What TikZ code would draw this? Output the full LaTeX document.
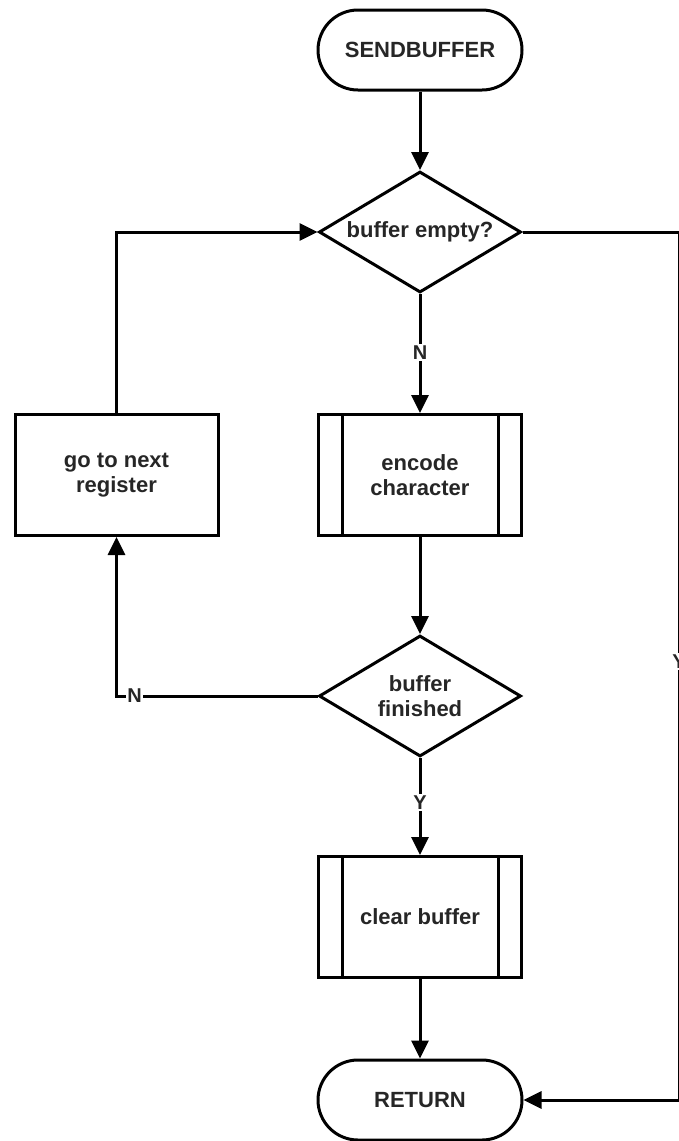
\documentclass[tikz,border=0pt]{standalone}
\usepackage{fontspec}
\setmainfont{Liberation Sans}
\usetikzlibrary{arrows.meta,shapes.geometric}

\tikzset{
  base/.style={draw=black, line width=3pt, fill=white, inner sep=0pt,
    align=center, font=\fontsize{22}{25}\selectfont\bfseries, text=black!85},
  terminal/.style={base, rectangle, rounded corners=40pt,
    minimum width=204pt, minimum height=80pt},
  decision/.style={base, diamond, shape aspect=1.67,
    minimum width=202pt, minimum height=121pt},
  process/.style={base, rectangle, minimum width=203pt, minimum height=121pt},
  subprocess/.style={process},
  flow/.style={line width=3pt, draw=black, -{Triangle[length=18pt,width=17pt]}},
  plain/.style={line width=3pt, draw=black},
  tag/.style={fill=white, inner sep=1.5pt, font=\fontsize{20}{22}\selectfont\bfseries, text=black!85}
}

\begin{document}
\begin{tikzpicture}[x=1pt, y=-1pt]
  \useasboundingbox (0,0) rectangle (679,1141);

  % main column
  \node[terminal]   (start) at (420,50)   {SENDBUFFER};
  \node[decision]   (empty) at (420,232)  {buffer empty?};
  \node[subprocess] (enc)   at (420,475)  {encode\\character};
  \node[decision]   (fin)   at (420,696)  {buffer\\finished};
  \node[subprocess] (clr)   at (420,917)  {clear buffer};
  \node[terminal]   (ret)   at (420,1100) {RETURN};

  % side branch
  \node[process]    (next)  at (116.5,475) {go to next\\register};

  % inner bars of the predefined processes
  \foreach \n in {enc,clr}{
    \draw[plain] ([xshift=25pt]\n.north west) -- ([xshift=25pt]\n.south west);
    \draw[plain] ([xshift=-25pt]\n.north east) -- ([xshift=-25pt]\n.south east);
  }

  % corners of the right-hand return line
  \coordinate (ne) at (679,232);
  \coordinate (se) at (679,1100);

  % connectors
  \draw[flow] (start) -- (empty);
  \draw[flow] (empty.south) -- node[tag, pos=0.49] {N} (enc.north);
  \draw[flow] (enc) -- (fin);
  \draw[flow] (fin.west) -| node[tag, pos=0.455] {N} (next.south);
  \draw[flow] (next.north) |- (empty.west);
  \draw[flow] (fin.south) -- node[tag, pos=0.46] {Y} (clr.north);
  \draw[flow] (clr) -- (ret);
  \draw[flow] (empty.east) -- (ne) -- node[tag, pos=0.495] {Y} (se) -- (ret.east);
\end{tikzpicture}
\end{document}
